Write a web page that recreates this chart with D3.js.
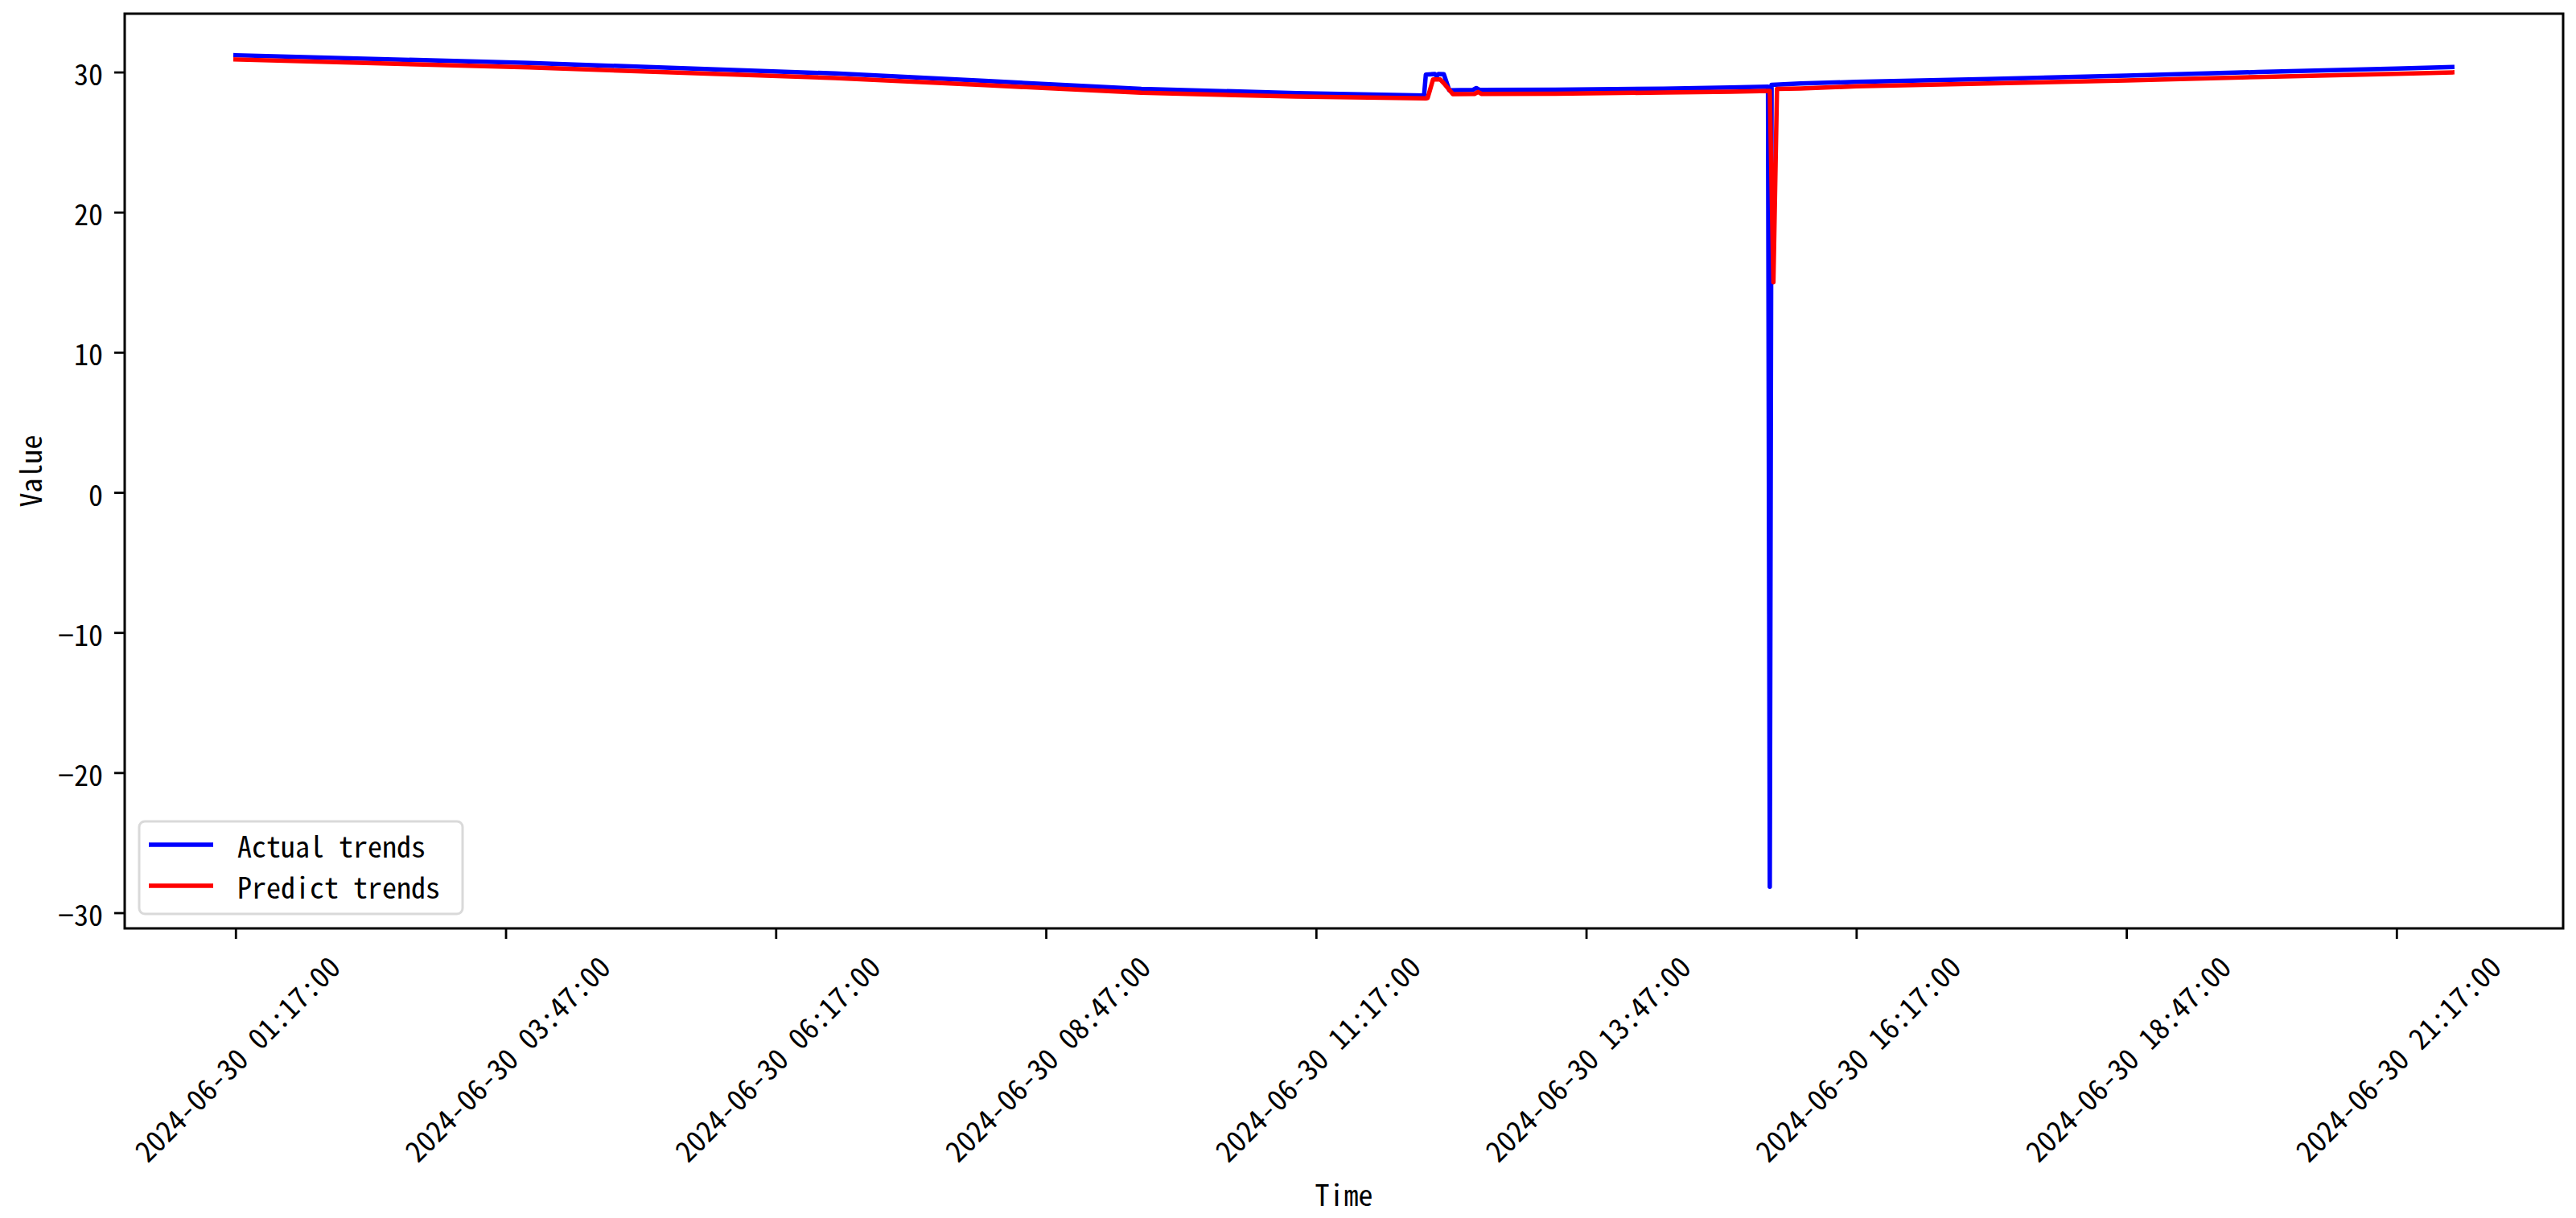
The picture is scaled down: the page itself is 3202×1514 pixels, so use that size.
<!DOCTYPE html>
<html>
<head>
<meta charset="utf-8">
<script src="https://cdn.jsdelivr.net/npm/d3@7"></script>
<style>
  html, body { margin: 0; padding: 0; background: #ffffff; }
  svg { display: block; }
  text { fill: #000; }
</style>
</head>
<body>
<svg id="chart" width="3202" height="1514"></svg>
<script>
// ---------------- data ----------------
const day = "2024-06-30";

const actualTimes = ["01:17","04:00","06:50","08:13","09:40","11:06","12:17","12:18","12:23","12:24","12:25","12:28","12:31","12:44","12:46","12:48","13:30","14:30","15:07","15:28","15:29","15:30","15:46","16:17","17:30","18:47","20:00","21:17","21:48"];
const actualValues = [31.2, 30.65, 29.9, 29.37, 28.8, 28.5, 28.32, 29.82, 29.86, 29.7, 29.86, 29.84, 28.7, 28.72, 28.86, 28.72, 28.74, 28.82, 28.9, 28.95, -28.15, 29.08, 29.18, 29.3, 29.5, 29.75, 30.0, 30.25, 30.36];

const predictTimes = ["01:17","04:00","06:50","08:13","09:40","11:06","12:18","12:19","12:22","12:26","12:28","12:33","12:45","12:47","12:49","13:30","14:30","15:07","15:29","15:31","15:33","15:46","16:17","17:30","18:47","20:00","21:17","21:48"];
const predictValues = [30.9, 30.33, 29.58, 29.07, 28.52, 28.25, 28.12, 28.15, 29.47, 29.47, 29.2, 28.42, 28.44, 28.58, 28.44, 28.46, 28.54, 28.6, 28.65, 15.0, 28.8, 28.83, 28.98, 29.18, 29.4, 29.65, 29.88, 29.98];

const xTickLabels = ["2024-06-30 01:17:00","2024-06-30 03:47:00","2024-06-30 06:17:00","2024-06-30 08:47:00","2024-06-30 11:17:00","2024-06-30 13:47:00","2024-06-30 16:17:00","2024-06-30 18:47:00","2024-06-30 21:17:00"];
const yTickValues = [-30, -20, -10, 0, 10, 20, 30];

const seriesNames = ["Actual trends", "Predict trends"];
const seriesColors = ["#0000ff", "#ff0000"];

// ---------------- build ----------------
const parseT = d3.timeParse("%Y-%m-%d %H:%M");
const parseTick = d3.timeParse("%Y-%m-%d %H:%M:%S");
const fmtTick = d3.timeFormat("%Y-%m-%d %H:%M:%S");

const actual = actualTimes.map((t, i) => ({ t: parseT(day + " " + t), v: actualValues[i] }));
const predict = predictTimes.map((t, i) => ({ t: parseT(day + " " + t), v: predictValues[i] }));
const all = actual.concat(predict);

const FONT = "'Noto Sans Mono CJK SC', 'DejaVu Sans Mono', monospace";
const FS = 36;

const L = 155, R = 3186, T = 17, B = 1154;

// matplotlib-like 5% margins
const tExt = d3.extent(all, d => +d.t);
const tPad = (tExt[1] - tExt[0]) * 0.05;
const vExt = d3.extent(all, d => d.v);
const vPad = (vExt[1] - vExt[0]) * 0.05;

const x = d3.scaleTime().domain([new Date(tExt[0] - tPad), new Date(tExt[1] + tPad)]).range([L, R]);
const y = d3.scaleLinear().domain([vExt[0] - vPad, vExt[1] + vPad]).range([B, T]);

const svg = d3.select("#chart");
svg.append("rect").attr("width", 3202).attr("height", 1514).attr("fill", "#fff");

// lines
const line = d3.line().x(d => x(d.t)).y(d => y(d.v));
[actual, predict].forEach((s, i) => {
  svg.append("path")
    .datum(s)
    .attr("d", line)
    .attr("fill", "none")
    .attr("stroke", seriesColors[i])
    .attr("stroke-width", 5.5)
    .attr("stroke-linejoin", "round")
    .attr("stroke-linecap", "square");
});

// axes
const xAxis = d3.axisBottom(x)
  .tickValues(xTickLabels.map(s => parseTick(s)))
  .tickFormat(fmtTick)
  .tickSize(13)
  .tickSizeOuter(0);
const gx = svg.append("g").attr("transform", `translate(0,${B})`).call(xAxis);
gx.select(".domain").remove();
gx.selectAll(".tick line").attr("stroke", "#000").attr("stroke-width", 2.8);
gx.selectAll(".tick text")
  .attr("font-family", FONT)
  .attr("font-size", FS)
  .attr("fill", "#000")
  .attr("text-anchor", "middle")
  .attr("dominant-baseline", "central")
  .attr("y", null).attr("dy", null)
  .each(function () {
    const len = this.getComputedTextLength();
    const half = (len + FS) / (2 * Math.SQRT2);
    d3.select(this).attr("transform", `translate(0,${13 + 14 + half}) rotate(-45)`);
  });

const yAxis = d3.axisLeft(y)
  .tickValues(yTickValues)
  .tickFormat(d => (d < 0 ? "\u2212" + Math.abs(d) : String(d)))
  .tickSize(13)
  .tickSizeOuter(0);
const gy = svg.append("g").attr("transform", `translate(${L},0)`).call(yAxis);
gy.select(".domain").remove();
gy.selectAll(".tick line").attr("stroke", "#000").attr("stroke-width", 2.8);
gy.selectAll(".tick text")
  .attr("font-family", FONT)
  .attr("font-size", FS)
  .attr("fill", "#000")
  .attr("x", -27)
  .attr("dy", null)
  .attr("dominant-baseline", "central");

// frame
svg.append("rect")
  .attr("x", L).attr("y", T).attr("width", R - L).attr("height", B - T)
  .attr("fill", "none").attr("stroke", "#000").attr("stroke-width", 3);

// axis labels
svg.append("text")
  .attr("transform", `translate(36,${(T + B) / 2}) rotate(-90)`)
  .attr("text-anchor", "middle").attr("dominant-baseline", "central")
  .attr("font-family", FONT).attr("font-size", FS)
  .text("Value");
svg.append("text")
  .attr("x", (L + R) / 2).attr("y", 1483)
  .attr("text-anchor", "middle").attr("dominant-baseline", "central")
  .attr("font-family", FONT).attr("font-size", FS)
  .text("Time");

// legend
const lg = svg.append("g");
lg.append("rect")
  .attr("x", 173).attr("y", 1021).attr("width", 402).attr("height", 115)
  .attr("rx", 7).attr("fill", "#fff").attr("fill-opacity", 0.8)
  .attr("stroke", "#d9d9d9").attr("stroke-width", 3);
seriesNames.forEach((n, i) => {
  const yy = 1050 + i * 51;
  lg.append("line")
    .attr("x1", 185).attr("x2", 265).attr("y1", yy).attr("y2", yy)
    .attr("stroke", seriesColors[i]).attr("stroke-width", 5.5);
  lg.append("text")
    .attr("x", 295).attr("y", yy)
    .attr("dominant-baseline", "central")
    .attr("font-family", FONT).attr("font-size", FS)
    .text(n);
});
</script>
</body>
</html>
